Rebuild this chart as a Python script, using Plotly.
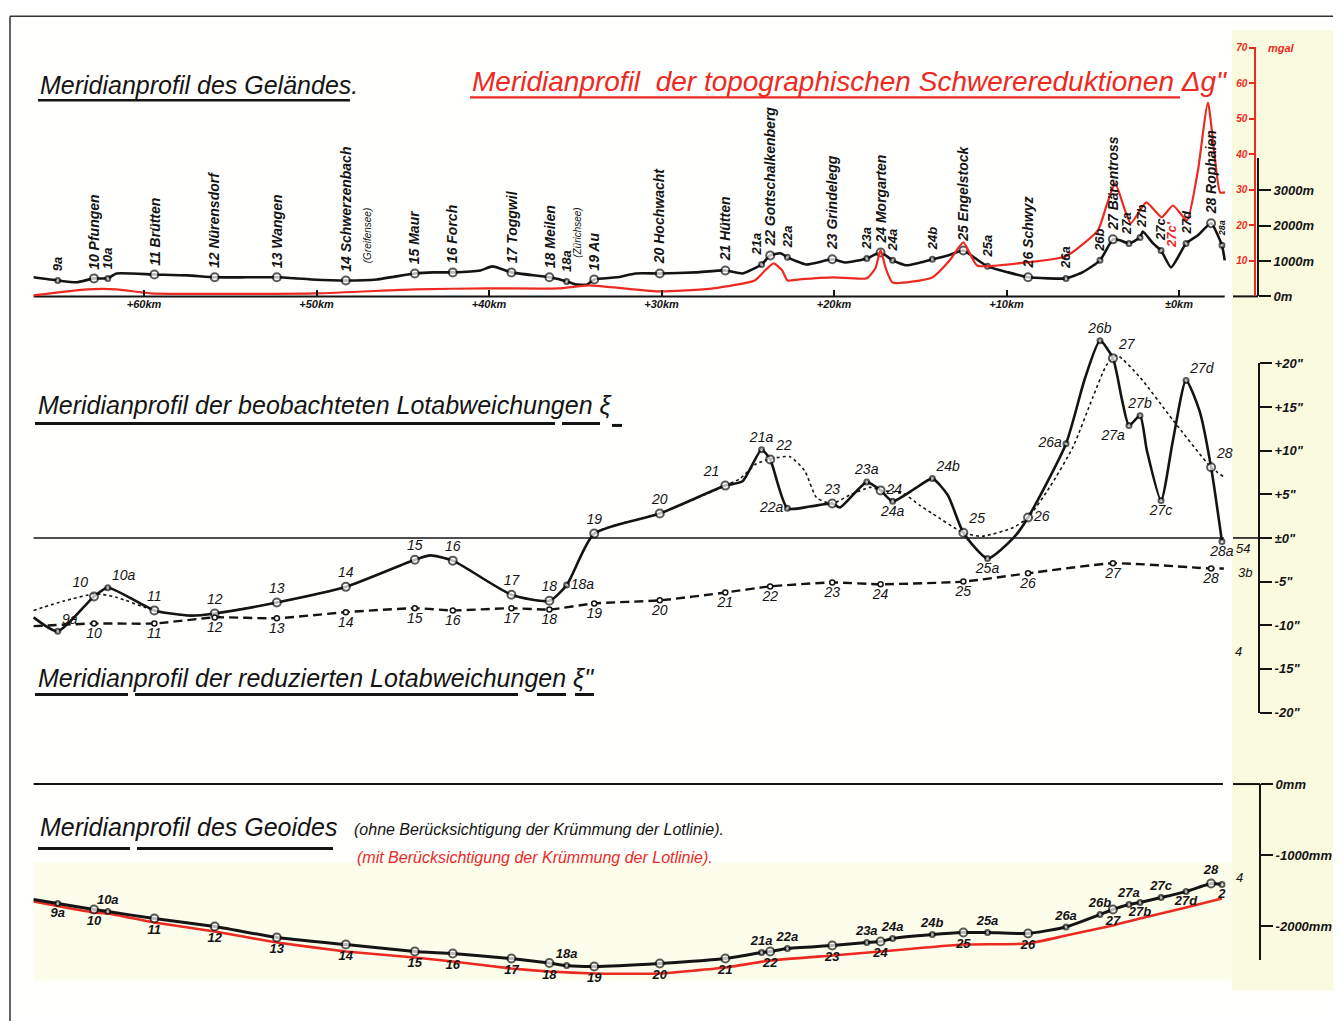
import plotly.graph_objects as go

# ---------------- data (km from the reference point, + = north) ----------------
stations = ['9a', '10', '10a', '11', '12', '13', '14', '15', '16', '17', '18', '18a', '19', '20',
            '21', '21a', '22', '22a', '23', '23a', '24', '24a', '24b', '25', '25a', '26', '26a',
            '26b', '27', '27a', '27b', '27c', '27d', '28', '28a']
station_km = [65.0, 62.9, 62.1, 59.4, 55.9, 52.3, 48.3, 44.3, 42.1, 38.7, 36.5, 35.5, 33.9, 30.1,
              26.3, 24.2, 23.7, 22.7, 20.1, 18.1, 17.3, 16.6, 14.3, 12.5, 11.1, 8.75, 6.55,
              4.58, 3.83, 2.90, 2.26, 1.04, -0.41, -1.86, -2.49]
station_names = ['9a', '10 Pfungen', '10a', '11 Brütten', '12 Nürensdorf', '13 Wangen',
                 '14 Schwerzenbach', '15 Maur', '16 Forch', '17 Toggwil', '18 Meilen', '18a',
                 '19 Au', '20 Hochwacht', '21 Hütten', '21a', '22 Gottschalkenberg', '22a',
                 '23 Grindelegg', '23a', '24 Morgarten', '24a', '24b', '25 Engelstock', '25a',
                 '26 Schwyz', '26a', '26b', '27 Bärentross', '27a', '27b', '27c', '27d',
                 '28 Rophaien', '28a']

# terrain profile (m)
terrain_km = [66.4, 65.0, 63.9, 62.9, 62.1, 61.6, 59.4, 57.5, 55.9, 54.0, 52.3, 50.3, 48.3, 46.5,
              44.3, 43.2, 42.1, 40.5, 39.8, 38.7, 36.5, 35.5, 35.0, 34.3, 33.9, 32.6, 31.5, 30.1,
              28.0, 26.3, 25.3, 24.2, 23.7, 23.1, 22.7, 21.6, 20.1, 19.3, 18.1, 17.3, 16.6, 15.8,
              15.0, 14.3, 13.4, 12.5, 11.8, 11.1, 9.9, 8.75, 7.6, 6.55, 5.6, 4.58, 3.83, 3.4,
              2.90, 2.26, 2.1, 1.5, 1.04, 0.46, -0.41, -1.1, -1.86, -2.49, -2.65]
terrain_m = [540, 450, 400, 510, 510, 650, 620, 595, 540, 540, 540, 480, 450, 480,
             650, 680, 680, 735, 850, 680, 540, 425, 340, 340, 480, 540, 650, 650,
             680, 735, 650, 905, 1160, 1220, 1105, 905, 1050, 960, 1075, 1245, 1020, 880,
             960, 1050, 1160, 1300, 1075, 850, 680, 540, 510, 510, 680, 1020, 1615, 1585,
             1500, 1670, 1840, 1500, 1300, 820, 1500, 1730, 2070, 1445, 1020]
terrain_station_m = [450, 510, 510, 620, 540, 540, 450, 650, 680, 680, 540, 425, 480, 650,
                     735, 905, 1160, 1105, 1050, 1075, 1245, 1020, 1050, 1300, 850, 540, 510,
                     1020, 1615, 1500, 1670, 1300, 1500, 2070, 1445]

# topographic gravity reduction (mgal)
grav_km = [66.4, 63.3, 61.6, 59.6, 50.0, 44.3, 40.0, 36.0, 34.2, 30.2, 27.0, 24.6, 24.0, 23.5,
           23.0, 22.7, 22.0, 20.0, 18.1, 17.6, 17.3, 17.0, 16.6, 14.3, 13.3, 12.5, 11.7, 8.8,
           6.55, 4.7, 4.2, 3.7, 2.8, 1.9, 1.0, 0.35, -0.46, -1.1, -1.68, -2.38, -2.67]
grav_mgal = [0.3, 2.0, 2.0, 0.85, 0.85, 2.0, 2.25, 2.25, 3.1, 1.4, 2.25, 4.5, 7.3, 9.3,
             7.3, 4.5, 4.8, 5.35, 5.1, 7.9, 13.0, 7.9, 3.9, 5.35, 10.1, 15.2, 8.7, 9.6,
             11.3, 18.6, 25.6, 31.8, 20.6, 26.5, 22.3, 25.6, 21.4, 35.5, 54.6, 29.3, 29.3]

# observed deflections of the vertical xi (arc seconds)
xi_km = [66.4, 65.0, 62.9, 62.1, 59.4, 57.3, 55.9, 52.3, 48.3, 44.3, 43.4, 42.1, 38.7, 36.5,
         35.5, 33.9, 30.1, 26.3, 25.3, 24.2, 23.7, 22.7, 21.4, 20.1, 19.65, 18.1, 17.3, 16.6,
         15.2, 14.3, 13.4, 12.5, 11.1, 9.6, 8.75, 6.55, 5.45, 4.58, 3.83, 3.3, 2.90, 2.26,
         1.86, 1.04, 0.35, -0.41, -1.2, -1.86, -2.49]
xi_sec = [-9.1, -10.7, -6.7, -5.7, -8.3, -8.9, -8.65, -7.4, -5.6, -2.5, -2.0, -2.6, -6.5, -7.2,
          -5.4, 0.5, 2.8, 6.0, 6.5, 10.1, 9.0, 3.4, 3.6, 3.95, 3.5, 6.4, 5.45, 4.2,
          5.8, 6.8, 4.9, 0.6, -2.35, 0.0, 2.35, 10.8, 18.3, 22.6, 20.6, 15.8, 12.9, 14.0,
          10.0, 4.3, 11.2, 18.05, 14.5, 8.1, -0.4]
xi_station_sec = [-10.7, -6.7, -5.7, -8.3, -8.65, -7.4, -5.6, -2.5, -2.6, -6.5, -7.2, -5.4, 0.5,
                  2.8, 6.0, 10.1, 9.0, 3.4, 3.95, 6.4, 5.45, 4.2, 6.8, 0.6, -2.35, 2.35, 10.8,
                  22.6, 20.6, 12.9, 14.0, 4.3, 18.05, 8.1, -0.4]

# dotted (smoothed) curve
dot_km = [66.4, 64.6, 62.8, 61.6, 59.4, 57.3, 55.9, 52.3, 48.3, 44.3, 43.4, 42.1, 38.7, 36.5,
          35.5, 33.9, 30.1, 26.3, 25.45, 24.5, 23.6, 22.55, 21.7, 21.0, 20.1, 19.1, 17.9, 17.3,
          16.0, 15.0, 14.3, 12.5, 11.4, 9.6, 8.75, 7.5, 6.15, 5.0, 4.2, 3.6, 2.26, 0.35,
          -1.86, -2.6]
dot_sec = [-8.3, -7.2, -6.4, -6.8, -8.3, -8.9, -8.65, -7.4, -5.6, -2.5, -2.0, -2.6, -6.5, -7.2,
           -5.4, 0.5, 2.8, 6.0, 6.8, 8.5, 9.1, 9.3, 7.7, 4.6, 3.95, 4.9, 5.8, 5.45,
           5.1, 3.7, 2.8, 0.6, 0.2, 1.2, 2.35, 5.8, 10.4, 16.1, 19.8, 20.9, 18.4, 13.5,
           8.1, 7.0]

# reduced deflections xi'' (dashed)
red_km = [66.4, 62.9, 59.4, 55.9, 52.3, 48.3, 44.3, 42.1, 38.7, 36.5, 33.9, 30.1, 26.3, 23.7,
          20.1, 17.3, 12.5, 8.75, 3.83, -1.86, -2.6]
red_sec = [-10.1, -9.8, -9.8, -9.1, -9.2, -8.5, -8.05, -8.3, -8.05, -8.2, -7.5, -7.15, -6.25,
           -5.55, -5.1, -5.3, -5.0, -4.05, -2.9, -3.5, -3.5]
red_labels = ['', '10', '11', '12', '13', '14', '15', '16', '17', '18', '19', '20', '21', '22',
              '23', '24', '25', '26', '27', '28', '']

# geoid profile (mm)
geo_km = [66.4] + station_km
geo_black_mm = [-1626, -1683, -1767, -1795, -1894, -2006, -2161, -2260, -2358, -2387, -2457,
                -2520, -2556, -2570, -2527, -2457, -2373, -2358, -2316, -2274, -2232, -2218,
                -2175, -2119, -2091, -2091, -2105, -2013, -1837, -1767, -1697, -1668, -1598,
                -1514, -1401, -1415]
geo_red_km = [66.4, 62.9, 62.1, 59.4, 55.9, 52.3, 48.3, 44.3, 42.1, 38.7, 36.5, 33.9, 30.1,
              26.3, 23.7, 20.1, 17.3, 12.5, 8.75, 6.55, 3.83, 2.26, -0.41, -2.49]
geo_red_mm = [-1654, -1809, -1823, -1950, -2077, -2231, -2358, -2443, -2499, -2598, -2640,
              -2668, -2668, -2584, -2485, -2415, -2358, -2260, -2246, -2133, -1992, -1894,
              -1739, -1612]
geo_labels = stations[:-1] + ['2']

km_ticks = [60, 50, 40, 30, 20, 10, 0]
km_ticktext = ['+60km', '+50km', '+40km', '+30km', '+20km', '+10km', '±0km']
m_ticks = [0, 1000, 2000, 3000]
m_ticktext = ['0m', '1000m', '2000m', '3000m']
mgal_ticks = [10, 20, 30, 40, 50, 60, 70]
sec_ticks = [-20, -15, -10, -5, 0, 5, 10, 15, 20]
sec_ticktext = ['-20"', '-15"', '-10"', '-5"', '±0"', '+5"', '+10"', '+15"', '+20"']
mm_ticks = [0, -1000, -2000]
mm_ticktext = ['0mm', '-1000mm', '-2000mm']

# ---------------- layout helpers (positions given in screen pixels) ----------------
FW, FH = 1333, 1021          # figure size
SX, SY = 8, 14.7             # where the figure's top-left corner lands on screen
KY = 0.985                   # screen pixels per figure pixel, vertically
RED = '#ec2a22'
INK = '#141414'
FONT = 'Liberation Sans'
KM0_PX, PX_PER_KM = 1179, 17.25


def px(x):
    return (x - SX) / FW


def py(y):
    return 1 - (y - SY) / (KY * FH)


def full_range(p0, ppu):
    # value 0 at screen row p0, ppu screen pixels per unit, axis covering the whole height
    return [(p0 - SY - KY * FH) / ppu, (p0 - SY) / ppu]


def dom(ptop, pbot):
    return [py(pbot), py(ptop)]


def km_at(x):
    return (KM0_PX - x) / PX_PER_KM


def is_main(s):
    return s.isdigit()


fig = go.Figure()

# ---- panel 1: terrain + gravity reduction ----
base_km = [66.4, -2.65, None, -3.13, -4.58]
fig.add_trace(go.Scatter(x=base_km, y=[0, 0, None, 0, 0], yaxis='y', mode='lines',
                         line=dict(color=INK, width=2), hoverinfo='skip'))
fig.add_trace(go.Scatter(x=grav_km, y=grav_mgal, yaxis='y3', mode='lines',
                         line=dict(color=RED, width=2.2, shape='spline', smoothing=0.5),
                         hoverinfo='skip'))
fig.add_trace(go.Scatter(x=terrain_km, y=terrain_m, yaxis='y', mode='lines',
                         line=dict(color=INK, width=2.6, shape='spline', smoothing=0.5),
                         hoverinfo='skip'))
fig.add_trace(go.Scatter(x=station_km, y=terrain_station_m, yaxis='y', mode='markers',
                         marker=dict(size=[8 if is_main(s) else 5 for s in stations],
                                     color='white', line=dict(color=INK, width=2)),
                         hoverinfo='skip'))

# ---- panel 2: deflections ----
zero_km = [66.4, -2.6, None, -3.13, -4.64]
fig.add_trace(go.Scatter(x=zero_km, y=[0, 0, None, 0, 0], yaxis='y5', mode='lines',
                         line=dict(color=INK, width=1.6), hoverinfo='skip'))
fig.add_trace(go.Scatter(x=dot_km, y=dot_sec, yaxis='y5', mode='lines',
                         line=dict(color=INK, width=1.6, dash='dot', shape='spline',
                                   smoothing=0.6), hoverinfo='skip'))
fig.add_trace(go.Scatter(x=xi_km, y=xi_sec, yaxis='y5', mode='lines',
                         line=dict(color=INK, width=2.6, shape='spline', smoothing=0.6),
                         hoverinfo='skip'))
xi_pos = ['top right', 'top left', 'top right', 'top center', 'top center', 'top center',
          'top center', 'top center', 'top center', 'top center', 'top center', 'middle right',
          'top center', 'top center', 'top left', 'top center', 'top right', 'middle left',
          'top center', 'top center', 'middle right', 'bottom center', 'top right', 'top right',
          'bottom center', 'middle right', 'middle left', 'top center', 'top right',
          'bottom left', 'top center', 'bottom center', 'top right', 'top right',
          'bottom center']
fig.add_trace(go.Scatter(x=station_km, y=xi_station_sec, yaxis='y5', mode='markers+text',
                         text=stations, textposition=xi_pos,
                         textfont=dict(family=FONT, size=14, color=INK, style='italic'),
                         marker=dict(size=[8 if is_main(s) else 5 for s in stations],
                                     color='white', line=dict(color=INK, width=2)),
                         cliponaxis=False, hoverinfo='skip'))
fig.add_trace(go.Scatter(x=red_km, y=red_sec, yaxis='y5', mode='lines',
                         line=dict(color=INK, width=2.4, dash='9px,5px', shape='spline',
                                   smoothing=0.5), hoverinfo='skip'))
fig.add_trace(go.Scatter(x=red_km[1:-1], y=red_sec[1:-1], yaxis='y5', mode='markers+text',
                         text=red_labels[1:-1], textposition='bottom center',
                         textfont=dict(family=FONT, size=14, color=INK, style='italic'),
                         marker=dict(size=5, color='white', line=dict(color=INK, width=1.5)),
                         cliponaxis=False, hoverinfo='skip'))

# ---- panel 3: geoid ----
zero_mm_km = [66.4, -2.55, None, -3.13, -4.70]
fig.add_trace(go.Scatter(x=zero_mm_km, y=[0, 0, None, 0, 0], yaxis='y7', mode='lines',
                         line=dict(color=INK, width=2), hoverinfo='skip'))
fig.add_trace(go.Scatter(x=geo_red_km, y=geo_red_mm, yaxis='y7', mode='lines',
                         line=dict(color=RED, width=2.6, shape='spline', smoothing=0.4),
                         hoverinfo='skip'))
fig.add_trace(go.Scatter(x=geo_km, y=geo_black_mm, yaxis='y7', mode='lines',
                         line=dict(color=INK, width=3, shape='spline', smoothing=0.4),
                         hoverinfo='skip'))
geo_pos = ['bottom center' if (is_main(s) or s in ('9a', '27b', '27d', '28a')) and s != '28'
           else 'top center' for s in stations]
fig.add_trace(go.Scatter(x=station_km, y=geo_black_mm[1:], yaxis='y7', mode='markers+text',
                         text=geo_labels, textposition=geo_pos,
                         textfont=dict(family=FONT, size=13, color=INK, style='italic',
                                       weight='bold'),
                         marker=dict(size=[8 if is_main(s) else 5 for s in stations],
                                     color='white', line=dict(color=INK, width=2)),
                         cliponaxis=False, hoverinfo='skip'))

# dummy traces so that the display axes are drawn
for ax in ('y2', 'y4', 'y6', 'y8'):
    fig.add_trace(go.Scatter(x=[None], y=[None], yaxis=ax, mode='lines', hoverinfo='skip'))

# ---- station names in the terrain profile (vertical) ----
name_xshift = {'21a': -5, '27a': -2, '27b': 2}
ann = []
for s, k, h, name in zip(stations, station_km, terrain_station_m, station_names):
    size = 14 if len(name) > 3 else 13
    if s == '28a':
        size = 9
    ann.append(dict(x=k, y=h, xref='x', yref='y', text=name, textangle=-90, showarrow=False,
                    xanchor='center', yanchor='bottom', yshift=7,
                    xshift=name_xshift.get(s, 0),
                    font=dict(family=FONT, size=size, color=INK, style='italic',
                              weight='bold')))
ann.append(dict(x=km_at(367), y=880, xref='x', yref='y', text='(Greifensee)', textangle=-90,
                showarrow=False, xanchor='center', yanchor='bottom',
                font=dict(family=FONT, size=10, color=INK, style='italic')))
ann.append(dict(x=km_at(578), y=1020, xref='x', yref='y', text='(Zürichsee)', textangle=-90,
                showarrow=False, xanchor='center', yanchor='bottom',
                font=dict(family=FONT, size=10, color=INK, style='italic')))
ann.append(dict(x=km_at(1172), y=1300, xref='x', yref='y', text="27c'", textangle=-90,
                showarrow=False, xanchor='center', yanchor='bottom',
                font=dict(family=FONT, size=13, color=RED, style='italic', weight='bold')))


# ---- titles ----
def title(text, x, y, size, color=INK, weight='normal'):
    return dict(x=px(x), y=py(y), xref='paper', yref='paper', text=text, showarrow=False,
                xanchor='left', yanchor='middle',
                font=dict(family=FONT, size=size, color=color, style='italic', weight=weight))


ann += [
    title('Meridianprofil des Geländes.', 38, 85, 25),
    title('Meridianprofil  der topographischen Schwerereduktionen Δg"', 470, 81, 28, RED),
    title('Meridianprofil der beobachteten Lotabweichungen ξ', 36, 405, 25),
    title('Meridianprofil der reduzierten Lotabweichungen ξ"', 36, 677, 25),
    title('Meridianprofil des Geoides', 38, 826, 25),
    title('(ohne Berücksichtigung der Krümmung der Lotlinie).', 352, 829, 16),
    title('(mit Berücksichtigung der Krümmung der Lotlinie).', 355, 857, 16, RED),
    title('mgal', 1266, 48, 11, RED, 'bold'),
    title('54', 1234, 548, 13),
    title('3b', 1236, 572, 13),
    title('4', 1233, 651, 13),
    title('4', 1234, 877, 13),
]


# ---- decorations (page frame, tinted paper, underlines) ----
def hline(x0, x1, y, w=3, color=INK):
    return dict(type='line', xref='paper', yref='paper', x0=px(x0), x1=px(x1), y0=py(y),
                y1=py(y), line=dict(color=color, width=w))


shapes = [
    dict(type='rect', xref='paper', yref='paper', x0=px(1232), x1=1, y0=py(990), y1=py(30),
         fillcolor='#fafadf', line=dict(width=0), layer='below'),
    dict(type='rect', xref='paper', yref='paper', x0=px(34), x1=px(1232), y0=py(980),
         y1=py(862), fillcolor='#fdfdec', line=dict(width=0), layer='below'),
    dict(type='line', xref='paper', yref='paper', x0=px(10), x1=1, y0=py(16), y1=py(16),
         line=dict(color='#333', width=1.5)),
    dict(type='line', xref='paper', yref='paper', x0=px(10), x1=px(10), y0=0, y1=py(16),
         line=dict(color='#333', width=1.5)),
    hline(38, 350, 100, 2.5),
    hline(470, 1180, 97, 2.2, RED),
    hline(35, 555, 423), hline(562, 600, 423), hline(612, 622, 425),
    hline(35, 128, 694), hline(135, 518, 694), hline(537, 566, 694), hline(575, 594, 694),
    hline(38, 130, 848), hline(137, 333, 848),
]

tick_font = dict(family=FONT, size=13, color=INK, style='italic', weight='bold')

fig.update_layout(
    width=FW, height=FH, margin=dict(l=0, r=0, t=0, b=0),
    paper_bgcolor='#fffffd', plot_bgcolor='rgba(0,0,0,0)', showlegend=False,
    annotations=ann, shapes=shapes,
    xaxis=dict(domain=[0, 1], range=[km_at(SX), km_at(SX + FW)], anchor='free',
               position=py(296), showgrid=False, zeroline=False, showline=False,
               ticks='inside', ticklen=6, tickwidth=1.5, tickcolor=INK, tickvals=km_ticks,
               ticktext=km_ticktext,
               tickfont=dict(family=FONT, size=11, color=INK, style='italic', weight='bold'),
               fixedrange=True),
    yaxis=dict(domain=[0, 1], range=full_range(296, 0.0353), visible=False, fixedrange=True),
    yaxis2=dict(domain=dom(158, 296), range=[0, (296 - 158) / 0.0353], anchor='free',
                position=px(1258), side='right', showline=True, linecolor=INK, linewidth=2,
                ticks='outside', ticklen=12, tickwidth=2, tickcolor=INK, tickvals=m_ticks,
                ticktext=m_ticktext, showgrid=False, zeroline=False, tickfont=tick_font),
    yaxis3=dict(domain=[0, 1], range=full_range(296, 3.55), overlaying='y', visible=False),
    yaxis4=dict(domain=dom(47, 296), range=[0, (296 - 47) / 3.55], anchor='free',
                position=px(1255), side='left', showline=True, linecolor=RED, linewidth=1.5,
                ticks='outside', ticklen=5, tickwidth=1.5, tickcolor=RED, tickvals=mgal_ticks,
                showgrid=False, zeroline=False,
                tickfont=dict(family=FONT, size=10, color=RED, style='italic', weight='bold')),
    yaxis5=dict(domain=[0, 1], range=full_range(537.5, 8.725), overlaying='y', visible=False),
    yaxis6=dict(domain=dom(363, 712), range=[-20, 20], anchor='free', position=px(1259),
                side='right', showline=True, linecolor=INK, linewidth=2, ticks='outside',
                ticklen=12, tickwidth=2, tickcolor=INK, tickvals=sec_ticks,
                ticktext=sec_ticktext, showgrid=False, zeroline=False, tickfont=tick_font),
    yaxis7=dict(domain=[0, 1], range=full_range(783.5, 0.071), overlaying='y', visible=False),
    yaxis8=dict(domain=dom(783.5, 959), range=[-(959 - 783.5) / 0.071, 0], anchor='free',
                position=px(1260), side='right', showline=True, linecolor=INK, linewidth=2,
                ticks='outside', ticklen=12, tickwidth=2, tickcolor=INK, tickvals=mm_ticks,
                ticktext=mm_ticktext, showgrid=False, zeroline=False, tickfont=tick_font),
)

fig.write_html('out.html')
